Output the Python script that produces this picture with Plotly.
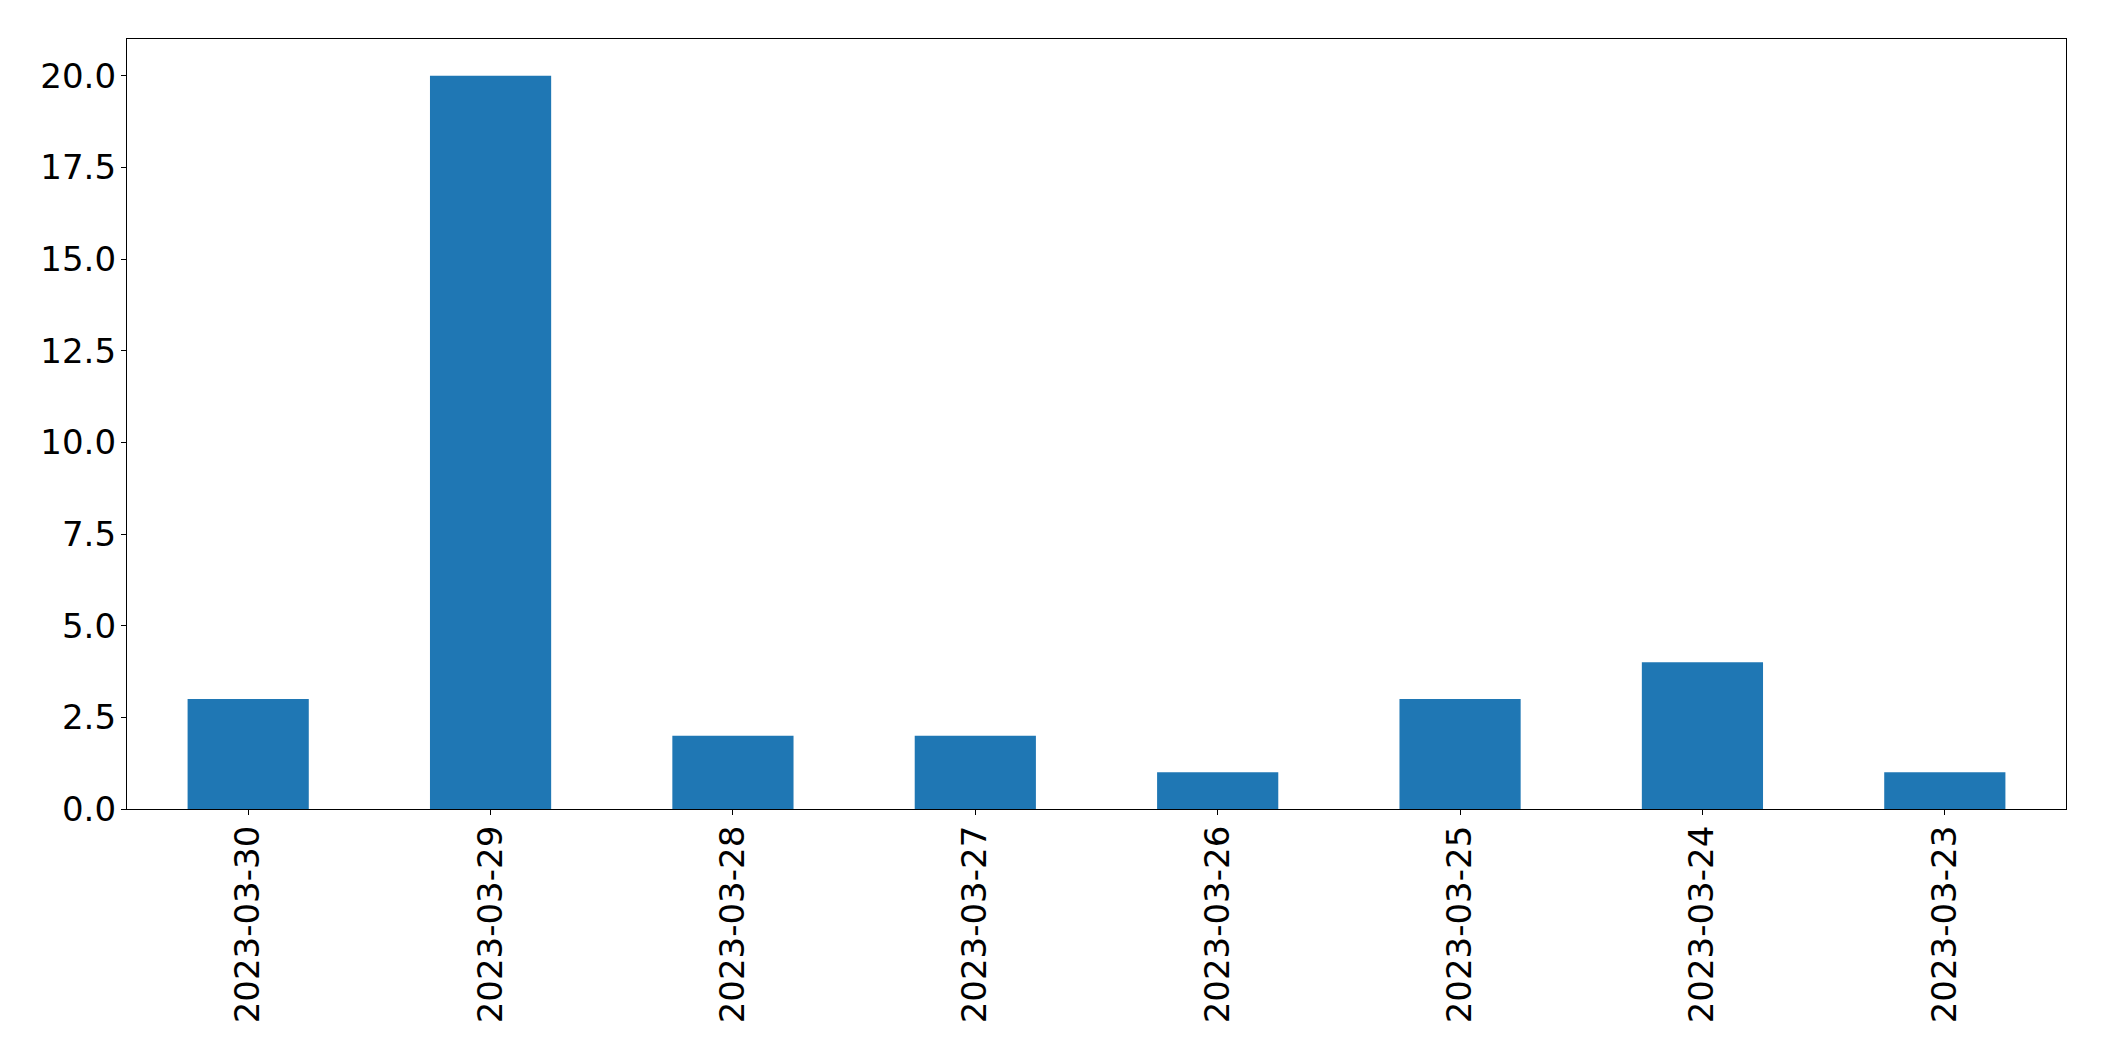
import plotly.graph_objects as go

dates = ["2023-03-30", "2023-03-29", "2023-03-28", "2023-03-27",
         "2023-03-26", "2023-03-25", "2023-03-24", "2023-03-23"]
counts = [3, 20, 2, 2, 1, 3, 4, 1]

fig = go.Figure(go.Bar(x=dates, y=counts, marker=dict(color="#1f77b4", line=dict(width=0))))

font = dict(family="DejaVu Sans", size=34, color="black")
fig.update_layout(
    width=2088, height=1045,
    margin=dict(l=119, r=30, t=31, b=244),
    paper_bgcolor="white", plot_bgcolor="white",
    bargap=0.5, showlegend=False, font=font,
)
fig.update_xaxes(type="category", range=[-0.5, 7.5], tickangle=-90,
                 showline=True, linecolor="black", linewidth=1.3, mirror=True,
                 ticks="outside", ticklen=5, tickwidth=1.3, tickcolor="black",
                 showgrid=False, zeroline=False, tickfont=font, ticklabelstandoff=-3)
fig.update_yaxes(range=[0, 21], tick0=0, dtick=2.5, tickformat=".1f",
                 showline=True, linecolor="black", linewidth=1.3, mirror=True,
                 ticks="outside", ticklen=5, tickwidth=1.3, tickcolor="black",
                 showgrid=False, zeroline=False, tickfont=font, ticklabelstandoff=-2)

fig.write_html("out.html")
